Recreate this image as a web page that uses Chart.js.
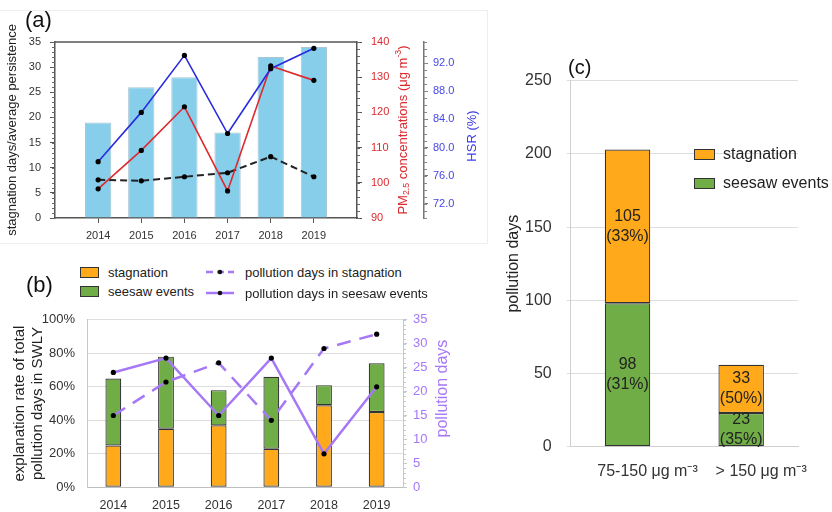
<!DOCTYPE html>
<html lang="en">
<head>
<meta charset="UTF-8">
<title>Stagnation, seesaw events and pollution days</title>
<script src="https://cdn.jsdelivr.net/npm/chart.js"></script>
<style>
  body { margin: 0; width: 832px; height: 512px; position: relative; overflow: hidden; background: #fff;
         font-family: "Liberation Sans", Arial, sans-serif; color: #222; }
  canvas { position: absolute; }
  .frame { position: absolute; left: -1px; top: 10px; width: 487px; height: 232px; border: 1px solid #eeeeee; }
  .tag { position: absolute; line-height: 1; color: #111; }
  .box { position: absolute; border: 1px solid #333; box-sizing: border-box; }
  .lbl { position: absolute; white-space: nowrap; line-height: 1; transform: translateY(-50%); color: #222; }
  svg { position: absolute; overflow: visible; }
</style>
</head>
<body>
<div class="frame"></div>
<canvas id="chartA" width="490" height="245" style="left:0;top:0"></canvas>
<canvas id="chartB" width="470" height="212" style="left:0;top:300px"></canvas>
<canvas id="chartC" width="352" height="472" style="left:480px;top:40px"></canvas>

<div class="tag" style="left:25px;top:9px;font-size:22px">(a)</div>
<div class="tag" style="left:26px;top:274px;font-size:22px">(b)</div>
<div class="tag" style="left:568px;top:57px;font-size:20px">(c)</div>

<!-- legend (b) -->
<div class="box" style="left:80px;top:267px;width:19px;height:11px;background:#ffa91b"></div>
<div class="lbl" style="left:108px;top:272px;font-size:13px">stagnation</div>
<div class="box" style="left:80px;top:286px;width:19px;height:11px;background:#70ad47"></div>
<div class="lbl" style="left:108px;top:291px;font-size:13px">seesaw events</div>
<svg style="left:206px;top:266px" width="28" height="12">
  <line x1="0" y1="6" x2="28" y2="6" stroke="#a678f7" stroke-width="2.5" stroke-dasharray="7,4"></line>
  <circle cx="14" cy="6" r="2.3" fill="#111"></circle>
</svg>
<div class="lbl" style="left:245px;top:272px;font-size:13px">pollution days in stagnation</div>
<svg style="left:206px;top:287px" width="28" height="12">
  <line x1="0" y1="6" x2="28" y2="6" stroke="#a678f7" stroke-width="2.5"></line>
  <circle cx="14" cy="6" r="2.3" fill="#111"></circle>
</svg>
<div class="lbl" style="left:245px;top:293px;font-size:13px">pollution days in seesaw events</div>

<!-- legend (c) -->
<div class="box" style="left:694px;top:149px;width:21px;height:11px;background:#ffa91b"></div>
<div class="lbl" style="left:723px;top:154px;font-size:16px">stagnation</div>
<div class="box" style="left:694px;top:178px;width:21px;height:11px;background:#70ad47"></div>
<div class="lbl" style="left:723px;top:183px;font-size:16px">seesaw events</div>

<script>
// (a) yearly stagnation statistics
const yearsA = [2014, 2015, 2016, 2017, 2018, 2019];
const stagnationDays = [19, 26, 28, 17, 32, 34];
const avgPersistence = [7.6, 7.4, 8.2, 9.0, 12.2, 8.2];
const pm25 = [98.3, 109.2, 121.6, 97.7, 133.2, 129.1];
const hsr = [78.0, 85.0, 93.1, 82.0, 91.2, 94.1];
const hsrTicks = [72, 76, 80, 84, 88, 92];

// (b) explanation rate and pollution days
const yearLabels = ['2014', '2015', '2016', '2017', '2018', '2019'];
const stagShare = [25, 35, 37, 23, 49, 45];
const seesawShare = [40, 43, 21, 43, 12, 29];
const pollDaysStag = [15, 22, 26, 14, 29, 32];
const pollDaysSeesaw = [24, 27, 15, 27, 7, 21];

// (c) pollution days by level
const levels = ['75-150 μg m⁻³', '> 150 μg m⁻³'];
const seesawDays = [98, 23];
const stagDays = [105, 33];
const seesawPct = ['31%', '35%'];
const stagPct = ['33%', '50%'];

const FAMILY = '"Liberation Sans", Arial, sans-serif';
const ORANGE = '#ffa91b', GREEN = '#70ad47', PURPLE = '#a678f7';
const RED = '#dc2a2e', BLUE = '#2a2ae0';

Chart.defaults.font.family = FAMILY;

const xy = (xs, ys) => xs.map((x, i) => ({ x: x, y: ys[i] }));

// little ticks between the labelled ones
function minorTicks(axes) {
  return {
    id: 'minorTicks',
    afterDraw(chart) {
      const ctx = chart.ctx;
      axes.forEach(a => {
        const s = chart.scales[a.id];
        ctx.save();
        ctx.strokeStyle = a.color;
        ctx.lineWidth = 1;
        ctx.beginPath();
        for (let v = s.min; v <= s.max + 1e-9; v += a.step) {
          const y = Math.round(s.getPixelForValue(v)) + 0.5;
          const x0 = a.side === 'left' ? s.right : s.left;
          ctx.moveTo(x0, y);
          ctx.lineTo(a.side === 'left' ? x0 - a.len : x0 + a.len, y);
        }
        ctx.stroke();
        ctx.restore();
      });
    }
  };
}

// right hand axis titles, read bottom to top, with sub/superscripts
function sideTitles(items) {
  return {
    id: 'sideTitles',
    afterDraw(chart) {
      const ctx = chart.ctx;
      items.forEach(it => {
        const s = chart.scales[it.id];
        const fontFor = p => ((p.sub || p.sup) ? it.size * 0.68 : it.size) + 'px ' + FAMILY;
        ctx.save();
        ctx.fillStyle = it.color;
        ctx.textBaseline = 'middle';
        ctx.textAlign = 'left';
        let total = 0;
        it.parts.forEach(p => { ctx.font = fontFor(p); total += ctx.measureText(p.t).width; });
        const cy = (chart.chartArea.top + chart.chartArea.bottom) / 2 + it.shift;
        ctx.translate(s.left + it.offset, cy);
        ctx.rotate(-Math.PI / 2);
        let x = -total / 2;
        it.parts.forEach(p => {
          ctx.font = fontFor(p);
          const dy = p.sub ? it.size * 0.28 : (p.sup ? -it.size * 0.35 : 0);
          ctx.fillText(p.t, x, dy);
          x += ctx.measureText(p.t).width;
        });
        ctx.restore();
      });
    }
  };
}

// top edge of the (a) box
const topEdge = {
  id: 'topEdge',
  afterDraw(chart) {
    const { ctx, chartArea } = chart;
    ctx.save();
    ctx.strokeStyle = '#555';
    ctx.lineWidth = 1.5;
    ctx.beginPath();
    ctx.moveTo(chartArea.left, chartArea.top);
    ctx.lineTo(chartArea.right, chartArea.top);
    ctx.stroke();
    ctx.restore();
  }
};

// numbers inside the (c) bars
function barLabels(pcts) {
  return {
    id: 'barLabels',
    afterDatasetsDraw(chart) {
      const ctx = chart.ctx;
      ctx.save();
      ctx.font = '16px ' + FAMILY;
      ctx.fillStyle = '#222';
      ctx.textAlign = 'center';
      ctx.textBaseline = 'middle';
      chart.data.datasets.forEach((ds, di) => {
        chart.getDatasetMeta(di).data.forEach((bar, i) => {
          const cy = (bar.y + bar.base) / 2;
          ctx.fillText(String(ds.data[i]), bar.x, cy - 10);
          ctx.fillText('(' + pcts[di][i] + ')', bar.x, cy + 10);
        });
      });
      ctx.restore();
    }
  };
}

const pointStyle = { pointRadius: 2.6, pointBackgroundColor: '#000', pointBorderColor: '#000', pointBorderWidth: 0 };

// ---------- (a) ----------
new Chart(document.getElementById('chartA'), {
  type: 'bar',
  data: {
    datasets: [
      Object.assign({ type: 'line', label: 'HSR', data: xy(yearsA, hsr), yAxisID: 'yHSR',
        borderColor: BLUE, borderWidth: 1.6, order: 0 }, pointStyle),
      Object.assign({ type: 'line', label: 'PM2.5', data: xy(yearsA, pm25), yAxisID: 'yPM',
        borderColor: RED, borderWidth: 1.6, order: 0 }, pointStyle),
      Object.assign({ type: 'line', label: 'average persistence', data: xy(yearsA, avgPersistence), yAxisID: 'y',
        borderColor: '#222', borderWidth: 2, borderDash: [7, 4], order: 0 }, pointStyle),
      { type: 'bar', label: 'stagnation days', data: xy(yearsA, stagnationDays), yAxisID: 'y',
        backgroundColor: '#87ceeb', borderColor: '#a9c6d6', borderWidth: 1,
        barPercentage: 0.61, categoryPercentage: 1, order: 1 }
    ]
  },
  options: {
    responsive: false,
    animation: false,
    layout: { padding: { top: 42, left: 0, right: 0, bottom: 0 } },
    plugins: { legend: { display: false }, tooltip: { enabled: false } },
    scales: {
      x: {
        type: 'linear', min: 2013, max: 2020, offset: false,
        afterBuildTicks: s => { s.ticks = yearsA.map(v => ({ value: v })); },
        afterFit: s => { s.height = 27; },
        grid: { offset: false, drawOnChartArea: false, drawTicks: true, tickLength: 5, color: '#555' },
        border: { color: '#555', width: 1.5 },
        ticks: { callback: v => String(v), color: '#333', font: { size: 11 }, padding: 6, maxRotation: 0 }
      },
      y: {
        position: 'left', min: 0, max: 35,
        afterFit: s => { s.width = 55; },
        grid: { drawOnChartArea: false, drawTicks: true, tickLength: 5, color: '#555' },
        border: { color: '#555', width: 1.5 },
        ticks: { stepSize: 5, color: '#333', font: { size: 11 }, padding: 9 },
        title: { display: true, text: 'stagnation days/average persistence', color: '#222',
          font: { size: 13 }, padding: { top: 5, bottom: 0 } }
      },
      yPM: {
        position: 'right', weight: 0, min: 90, max: 140,
        afterFit: s => { s.width = 67; },
        grid: { drawOnChartArea: false, drawTicks: true, tickLength: 5, color: '#555' },
        border: { color: '#555', width: 1.5 },
        ticks: { stepSize: 10, color: RED, font: { size: 11 }, padding: 9 }
      },
      yHSR: {
        position: 'right', weight: 1, min: 70, max: 95,
        afterBuildTicks: s => { s.ticks = hsrTicks.map(v => ({ value: v })); },
        afterFit: s => { s.width = 66; },
        grid: { drawOnChartArea: false, drawTicks: true, tickLength: 4, color: '#777' },
        border: { color: '#777', width: 1.5 },
        ticks: { callback: v => v.toFixed(1), color: '#4646e8', font: { size: 11 }, padding: 5 }
      }
    }
  },
  plugins: [
    minorTicks([
      { id: 'y', step: 1, len: 3, side: 'left', color: '#666' },
      { id: 'yPM', step: 2, len: 3, side: 'right', color: '#666' },
      { id: 'yHSR', step: 1, len: 3, side: 'right', color: '#888' }
    ]),
    sideTitles([
      { id: 'yPM', offset: 46, size: 13, color: RED, shift: 0, parts: [
        { t: 'PM' }, { t: '2.5', sub: true }, { t: ' concentrations (μg m' }, { t: '-3', sup: true }, { t: ')' }
      ] },
      { id: 'yHSR', offset: 48, size: 13, color: '#3c3ce6', shift: 6, parts: [{ t: 'HSR (%)' }] }
    ]),
    topEdge
  ]
});

// ---------- (b) ----------
new Chart(document.getElementById('chartB'), {
  type: 'bar',
  data: {
    labels: yearLabels,
    datasets: [
      Object.assign({ type: 'line', label: 'pollution days in stagnation', data: pollDaysStag, yAxisID: 'y2',
        borderColor: PURPLE, borderWidth: 2.5, borderDash: [14, 9], order: 0 }, pointStyle),
      Object.assign({ type: 'line', label: 'pollution days in seesaw events', data: pollDaysSeesaw, yAxisID: 'y2',
        borderColor: PURPLE, borderWidth: 2.5, order: 0 }, pointStyle),
      { label: 'stagnation', data: stagShare, backgroundColor: ORANGE, borderColor: '#333', borderWidth: 1.2,
        borderSkipped: false, barPercentage: 0.3, categoryPercentage: 1, order: 1 },
      { label: 'seesaw events', data: seesawShare, backgroundColor: GREEN, borderColor: '#333', borderWidth: 1.2,
        borderSkipped: false, barPercentage: 0.3, categoryPercentage: 1, order: 1 }
    ]
  },
  options: {
    responsive: false,
    animation: false,
    layout: { padding: { top: 12.7, left: 0, right: 0, bottom: 0 } },
    plugins: { legend: { display: false }, tooltip: { enabled: false } },
    scales: {
      x: {
        stacked: true,
        afterFit: s => { s.height = 24.7; },
        grid: { display: false },
        border: { color: '#bfbfbf', width: 1 },
        ticks: { color: '#333', font: { size: 12.5 }, padding: 3 }
      },
      y: {
        stacked: true, position: 'left', min: 0, max: 100,
        afterFit: s => { s.width = 87; },
        grid: { color: '#dedede', drawTicks: false },
        border: { color: '#c8c8c8', width: 1 },
        ticks: { stepSize: 10, callback: v => v + '%', color: '#333', font: { size: 13 }, padding: 12 },
        title: { display: true, text: ['explanation rate of total', 'pollution days in SWLY'], color: '#222',
          font: { size: 15, lineHeight: 1.15 }, padding: { top: 11.5, bottom: 0 } }
      },
      y2: {
        position: 'right', min: 0, max: 35,
        afterFit: s => { s.width = 67; },
        grid: { drawOnChartArea: false, drawTicks: true, tickLength: 4, color: '#c8c8c8' },
        border: { color: '#c8c8c8', width: 1 },
        ticks: { stepSize: 5, color: PURPLE, font: { size: 13 }, padding: 6 }
      }
    }
  },
  plugins: [
    minorTicks([{ id: 'y2', step: 1, len: 3, side: 'right', color: '#c8c8c8' }]),
    sideTitles([{ id: 'y2', offset: 40, size: 16, color: PURPLE, shift: -15, parts: [{ t: 'pollution days' }] }])
  ]
});

// ---------- (c) ----------
new Chart(document.getElementById('chartC'), {
  type: 'bar',
  data: {
    labels: levels,
    datasets: [
      { label: 'seesaw events', data: seesawDays, backgroundColor: GREEN, borderColor: '#333',
        borderWidth: 1.2, borderSkipped: false, barPercentage: 0.4, categoryPercentage: 1 },
      { label: 'stagnation', data: stagDays, backgroundColor: ORANGE, borderColor: '#333',
        borderWidth: 1.2, borderSkipped: false, barPercentage: 0.4, categoryPercentage: 1 }
    ]
  },
  options: {
    responsive: false,
    animation: false,
    layout: { padding: { top: 40.7, left: 0, right: 34, bottom: 0 } },
    plugins: { legend: { display: false }, tooltip: { enabled: false } },
    scales: {
      x: {
        stacked: true,
        afterFit: s => { s.height = 65.3; },
        grid: { display: false },
        border: { color: '#d0d0d0', width: 1 },
        ticks: { color: '#333', font: { size: 16 }, padding: 7, labelOffset: 20, maxRotation: 0 }
      },
      y: {
        stacked: true, min: 0, max: 250,
        afterFit: s => { s.width = 90.7; },
        grid: { color: '#dedede', tickLength: 4 },
        border: { color: '#d0d0d0', width: 1 },
        ticks: { stepSize: 50, color: '#333', font: { size: 16 }, padding: 15 },
        title: { display: true, text: 'pollution days', color: '#222', font: { size: 16 },
          padding: { top: 23.5, bottom: 0 } }
      }
    }
  },
  plugins: [barLabels([seesawPct, stagPct])]
});
</script>
</body>
</html>
